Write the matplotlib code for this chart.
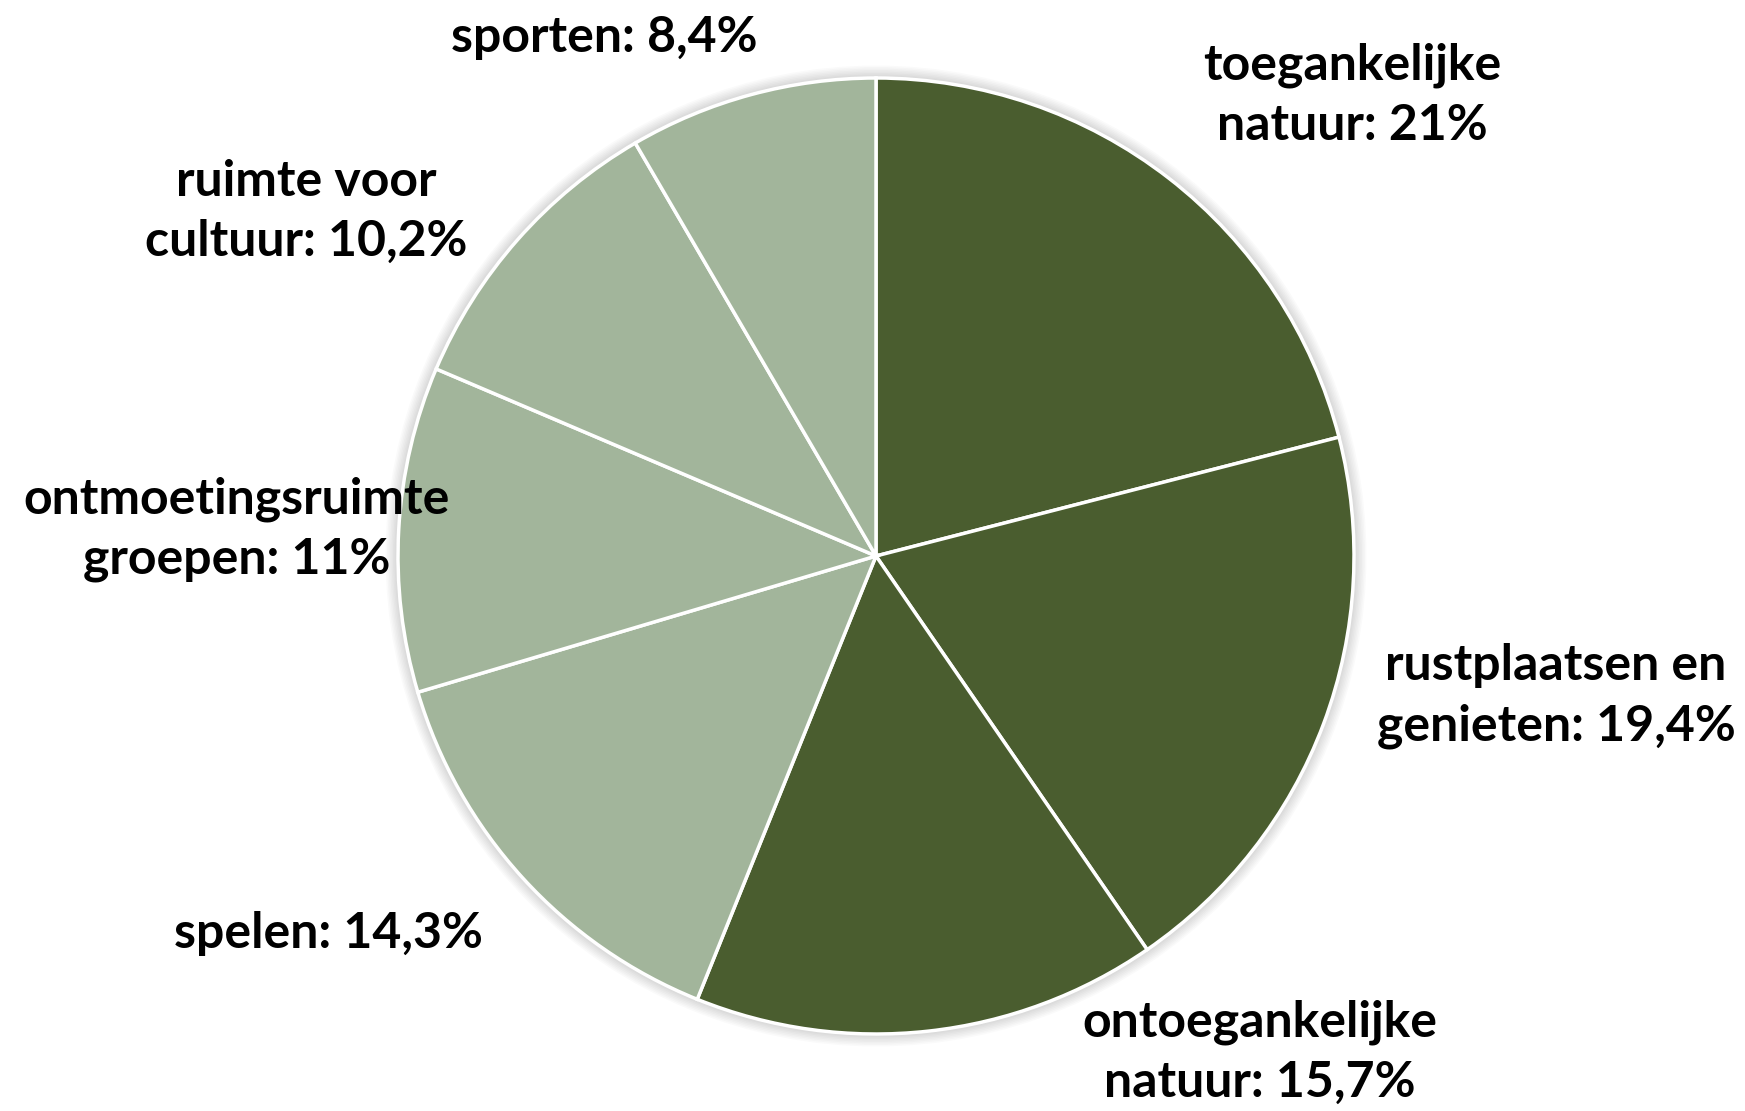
import matplotlib.pyplot as plt
from matplotlib.patches import Circle

# Data
labels = ['toegankelijke\nnatuur', 'rustplaatsen en\ngenieten', 'ontoegankelijke\nnatuur',
          'spelen', 'ontmoetingsruimte\ngroepen', 'ruimte voor\ncultuur', 'sporten']
values = [21.0, 19.4, 15.7, 14.3, 11.0, 10.2, 8.4]
pct_text = ['21%', '19,4%', '15,7%', '14,3%', '11%', '10,2%', '8,4%']

dark = '#4A5D2F'
light = '#A2B59B'
colors = [dark, dark, dark, light, light, light, light]

# label positions in pixels from top-left (layout)
label_pos = [(1352, 95), (1556, 696), (1260, 1052), (328, 933),
             (237, 529), (306, 211), (604, 37)]

W, H = 1745, 1111
fig = plt.figure(figsize=(W / 100, H / 100), dpi=100)
ax = fig.add_axes([0, 0, 1, 1])

cx, cy, r = 876, H - 556, 478

# soft shadow around the pie
for i in range(8):
    ax.add_patch(Circle((cx, cy), r + 2 + i * 1.5, color='black', alpha=0.018, lw=0, zorder=0))

ax.pie(values, colors=colors, startangle=90, counterclock=False, center=(cx, cy), radius=r,
       wedgeprops=dict(edgecolor='white', linewidth=2.5), frame=True)
ax.set_xlim(0, W)
ax.set_ylim(0, H)
ax.set_aspect('equal')
ax.axis('off')

for lab, pct, (x, y) in zip(labels, pct_text, label_pos):
    ax.text(x, H - y, f'{lab}: {pct}', ha='center', va='center', fontsize=36,
            fontweight='bold', family='Lato', linespacing=1.4, zorder=5)

fig.savefig('out.png', dpi=100)
